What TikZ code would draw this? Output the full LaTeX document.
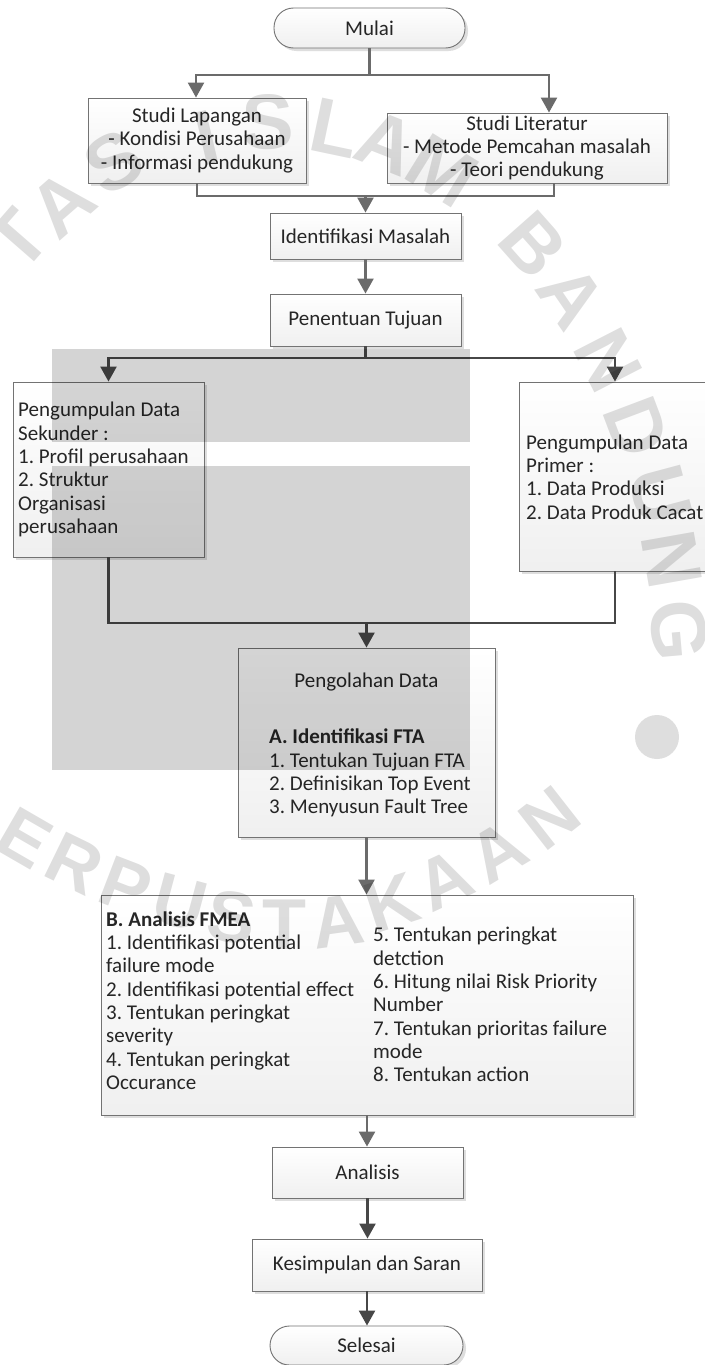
\documentclass[tikz,border=0pt]{standalone}
\usepackage{fontspec}
\setmainfont{Carlito}
\newfontfamily\wmfont{Liberation Sans}
\usetikzlibrary{arrows.meta,shadows}
\newcommand\mysize{\fontsize{21pt}{23.3pt}\selectfont}
\frenchspacing
\begin{document}
\begin{tikzpicture}[x=1pt,y=-1pt,
 box/.style={draw=black!55, line width=0.9pt, top color=white, bottom color=black!6,
   drop shadow={shadow xshift=3pt,shadow yshift=-3pt,fill=black!13,opacity=1},
   inner sep=0pt, text=black!85, font=\mysize, align=center},
 term/.style={box, rounded corners=19.5pt},
 txt/.style={inner sep=0pt, text=black!85, font=\mysize, align=left},
 lnA/.style={draw=black!58, line width=2.4pt},
 lnB/.style={draw=black!72, line width=2.4pt},
 tip/.style={-{Triangle[width=16pt,length=15pt]}},
 wm/.style={inner sep=0pt, text=black, text opacity=0.13, font=\wmfont\bfseries\fontsize{78pt}{78pt}\selectfont},
 wmb/.style={wm, font=\wmfont\bfseries\fontsize{72pt}{72pt}\selectfont}
]
\fill[white] (0,0) rectangle (704,1365);
\useasboundingbox (0,0) rectangle (704,1365);

% ---- boxes ----
\node[term, minimum width=191pt, minimum height=40pt] (mulai) at (369.5,28) {Mulai};
\node[box, minimum width=218pt, minimum height=85pt] (lap) at (197,140.5) {Studi Lapangan\\- Kondisi Perusahaan\\- Informasi pendukung};
\node[box, minimum width=280pt, minimum height=70pt] (lit) at (527,148) {Studi Literatur\\- Metode Pemcahan masalah\\- Teori pendukung};
\node[box, minimum width=191pt, minimum height=46pt] (idm) at (365.5,236) {Identifikasi Masalah};
\node[box, minimum width=191pt, minimum height=52pt] (pen) at (365.5,320) {Penentuan Tujuan};
\node[box, minimum width=191pt, minimum height=175pt] (sek) at (108.5,469.5) {};
\node[txt, anchor=west] (sekt) at (18,469.5)
  {Pengumpulan Data\\Sekunder :\\1. Profil perusahaan\\2. Struktur\\Organisasi\\perusahaan};
\node[box, minimum width=197pt, minimum height=189pt] (pri) at (617.5,476.5) {};
\node[txt, anchor=west] (prit) at (526,477)
  {Pengumpulan Data\\Primer :\\1. Data Produksi\\2. Data Produk Cacat};
\node[box, minimum width=257pt, minimum height=189pt] (olah) at (366.5,742.5) {};
\node[txt] (olaht) at (366.5,682) {Pengolahan Data};
\node[txt, anchor=west] (olahl) at (269,773) {\textbf{A. Identifikasi FTA}\\1. Tentukan Tujuan FTA\\2. Definisikan Top Event\\3. Menyusun Fault Tree};
\node[box, minimum width=532pt, minimum height=220pt] (fmea) at (367,1005) {};
\node[txt, anchor=west] (fmeal) at (106,1000.5) {\textbf{B. Analisis FMEA}\\1. Identifikasi potential\\failure mode\\2. Identifikasi potential effect\\3. Tentukan peringkat\\severity\\4. Tentukan peringkat\\Occurance};
\node[txt, anchor=west] (fmear) at (373,1004.5) {5. Tentukan peringkat\\detction\\6. Hitung nilai Risk Priority\\Number\\7. Tentukan prioritas failure\\mode\\8. Tentukan action};
\node[box, minimum width=191pt, minimum height=51pt] (ana) at (367.5,1172.5) {Analisis};
\node[box, minimum width=230pt, minimum height=52pt] (kes) at (367,1265) {Kesimpulan dan Saran};
\node[term, minimum width=193pt, minimum height=39pt] (sel) at (366.5,1345.5) {Selesai};

% ---- connectors ----
\coordinate (s1) at (369.5,75);
\draw[lnA] (mulai.south) -- (s1);
\draw[lnA,tip] (s1) -| ([xshift=-1pt]lap.north);
\draw[lnA,tip] (s1) -| ([xshift=22pt]lit.north);
\coordinate (m1) at (365.5,196);
\draw[lnA] (lap.south) |- (m1) -| ([xshift=27pt]lit.south);
\draw[lnA,tip] (m1) -- (idm.north);
\draw[lnA,tip] (idm.south) -- (pen.north);
\coordinate (s2) at (365.5,358);
\draw[lnB] (pen.south) -- (s2);
\draw[lnB,tip] (s2) -| (sek.north);
\draw[lnB,tip] (s2) -| ([xshift=-2.5pt]pri.north);
\coordinate (m2) at (366.5,623);
\draw[lnB] (sek.south) |- (m2) -| ([xshift=-2.5pt]pri.south);
\draw[lnB,tip] (m2) -- (olah.north);
\draw[lnA,tip] (olah.south) -- (olah.south |- fmea.north);
\draw[lnA,tip] (fmea.south) -- (fmea.south |- ana.north);
\draw[lnB,tip] (ana.south) -- (ana.south |- kes.north);
\draw[lnB,tip] (kes.south) -- (kes.south |- sel.north);

% ---- watermark ----
\fill[black, fill opacity=0.17] (52,349) rectangle (470,442);
\fill[black, fill opacity=0.17] (52,466) rectangle (470,770);
\node[wm, rotate=48.9] (w01) at (18,240) {T};
\node[wm, rotate=41.1] (w02) at (62,204) {A};
\node[wm, rotate=31.3] (w03) at (114,162) {S};
\node[wm, rotate=13.3] (w04) at (207,138) {I};
\node[wm, rotate=1.2] (w05) at (268,122) {S};
\node[wm, rotate=-11.9] (w06) at (335,128) {L};
\node[wm, rotate=-21.4] (w07) at (387,143) {A};
\node[wm, rotate=-31.7] (w08) at (442,171) {M};
\node[wm, rotate=-48.5] (w09) at (533,245) {B};
\node[wm, rotate=-55.6] (w10) at (572,297) {A};
\node[wm, rotate=-62.8] (w11) at (608,360) {N};
\node[wm, rotate=-69.3] (w12) at (637,427) {D};
\node[wm, rotate=-75] (w13) at (660,495) {U};
\node[wm, rotate=-80] (w14) at (672,560) {N};
\node[wm, rotate=-85] (w15) at (679,630) {G};
\fill[black, fill opacity=0.13] (657,737) circle (22pt);
\node[wmb, rotate=-30] (w16) at (25,838) {E};
\node[wmb, rotate=-26] (w17) at (75,864) {R};
\node[wmb, rotate=-21] (w18) at (126,886) {P};
\node[wmb, rotate=-15] (w19) at (180,903) {U};
\node[wmb, rotate=-8] (w20) at (232,917) {S};
\node[wmb, rotate=0] (w21) at (284,925) {T};
\node[wmb, rotate=8] (w22) at (338,921) {A};
\node[wmb, rotate=18] (w23) at (392,903) {K};
\node[wmb, rotate=25] (w24) at (445,880) {A};
\node[wmb, rotate=31] (w25) at (498,852) {A};
\node[wmb, rotate=38] (w26) at (550,818) {N};
\end{tikzpicture}
\end{document}
